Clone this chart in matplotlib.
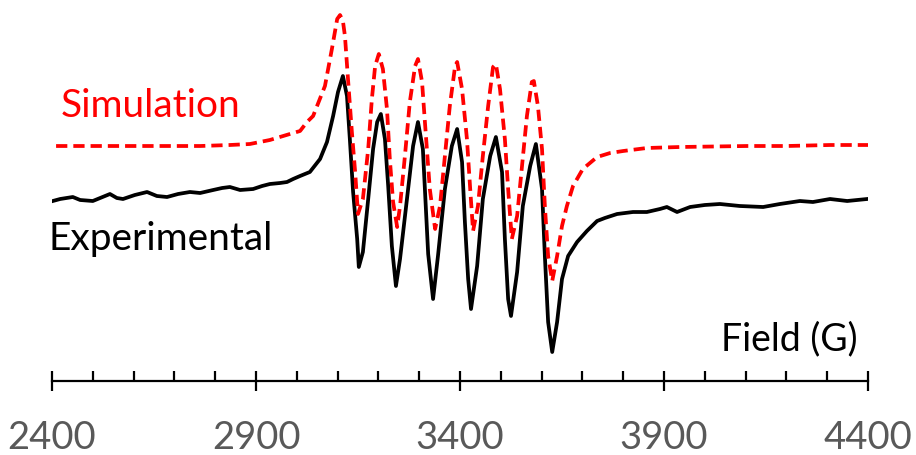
import matplotlib
matplotlib.use("Agg")
import matplotlib.pyplot as plt

# field values (G) and intensities (arbitrary units)
exp_field = [2402, 2420, 2451, 2469, 2500, 2518, 2542, 2559, 2574, 2603,
             2633, 2657, 2682, 2709, 2738, 2763, 2795, 2817, 2836, 2861,
             2893, 2915, 2934, 2959, 2976, 2991, 3008, 3032, 3057, 3074,
             3089, 3101, 3113, 3123, 3130, 3138, 3148, 3152, 3162, 3175,
             3187, 3197, 3206, 3216, 3224, 3233, 3243, 3253, 3270, 3285,
             3297, 3309, 3322, 3334, 3346, 3363, 3380, 3393, 3405, 3412,
             3420, 3427, 3442, 3456, 3474, 3488, 3503, 3510, 3518, 3525,
             3540, 3554, 3572, 3586, 3601, 3608, 3616, 3626, 3638, 3650,
             3665, 3687, 3711, 3736, 3755, 3785, 3824, 3858, 3890, 3907,
             3932, 3964, 4000, 4037, 4086, 4143, 4184, 4233, 4265, 4307,
             4349, 4398]
exp_signal = [-2, 0, 2, -1, -2, 1, 5, 1, 0, 4,
              7, 3, 2, 5, 7, 6, 9, 11, 12, 9,
              10, 13, 15, 16, 17, 20, 23, 27, 40, 57,
              83, 107, 123, 103, 60, 7, -40, -68, -53, 0,
              50, 77, 85, 60, 13, -47, -87, -60, 0, 53,
              77, 50, -55, -100, -57, 10, 53, 70, 37, -23,
              -80, -110, -67, 0, 43, 62, 27, -40, -100, -117,
              -73, -7, 33, 55, 10, -57, -123, -153, -123, -80,
              -57, -43, -32, -22, -19, -15, -13, -13, -10, -8,
              -13, -8, -6, -5, -7, -8, -5, -2, -3, 0,
              -2, 0]

sim_field = [2410, 2518, 2640, 2763, 2836, 2885, 2934, 2983, 3008, 3025,
             3040, 3069, 3086, 3099, 3106, 3113, 3118, 3126, 3135, 3143,
             3150, 3162, 3175, 3184, 3192, 3201, 3211, 3221, 3228, 3236,
             3246, 3253, 3265, 3277, 3290, 3297, 3307, 3314, 3326, 3339,
             3351, 3363, 3375, 3388, 3393, 3405, 3417, 3425, 3432, 3444,
             3456, 3469, 3481, 3488, 3498, 3510, 3518, 3527, 3540, 3552,
             3564, 3576, 3581, 3591, 3601, 3608, 3616, 3626, 3638, 3650,
             3662, 3677, 3701, 3736, 3768, 3800, 3858, 3939, 4103, 4201,
             4307, 4400]
sim_signal = [0, 0, 0, 0, 1, 2, 6, 12, 15, 24,
              30, 60, 97, 127, 131, 125, 110, 64, 14, -26,
              -68, -53, -3, 47, 80, 92, 77, 37, -13, -56,
              -81, -60, -10, 44, 80, 87, 64, 24, -43, -83,
              -60, -10, 40, 80, 84, 57, 7, -43, -85, -60,
              -10, 40, 79, 82, 57, 7, -43, -93, -70, -20,
              30, 64, 65, 40, -3, -60, -110, -135, -110, -80,
              -60, -40, -23, -11, -7, -5, -2, -1, 0, 0,
              1, 1]
sim_offset = 53

major_ticks = [2400, 2900, 3400, 3900, 4400]
minor_ticks = list(range(2400, 4401, 100))

fig = plt.figure(figsize=(9.16, 4.56), dpi=100)
ax = fig.add_axes([52 / 916, 74 / 456, 816 / 916, 382 / 456])

ax.plot(exp_field, exp_signal, color="black", lw=2.7, solid_joinstyle="round")
ax.plot(sim_field, [s + sim_offset for s in sim_signal], color="#ff0000",
        lw=2.7, dashes=(3.0, 1.6))

ax.set_xlim(2400, 4400)
ax.set_ylim(-182, 200)
for side in ["top", "right", "left"]:
    ax.spines[side].set_visible(False)
ax.spines["bottom"].set_linewidth(1.6)
ax.set_yticks([])
ax.set_xticks(major_ticks)
ax.set_xticks(minor_ticks, minor=True)
ax.tick_params(axis="x", which="major", direction="inout", length=15,
               width=1.6, pad=20, labelsize=27.5, labelcolor="#595959")
ax.tick_params(axis="x", which="minor", direction="in", length=7, width=1.6)
for lab in ax.get_xticklabels():
    lab.set_fontfamily("Lato")

fig.text(61 / 916, (456 - 117) / 456, "Simulation", color="#ff0000",
         fontsize=28, family="Lato", va="baseline", ha="left")
fig.text(48 / 916, (456 - 250) / 456, "Experimental", color="black",
         fontsize=28, family="Lato", va="baseline", ha="left")
fig.text(858 / 916, (456 - 350) / 456, "Field (G)", color="black",
         fontsize=27, family="Lato", va="baseline", ha="right")

fig.savefig("out.png", dpi=100)
